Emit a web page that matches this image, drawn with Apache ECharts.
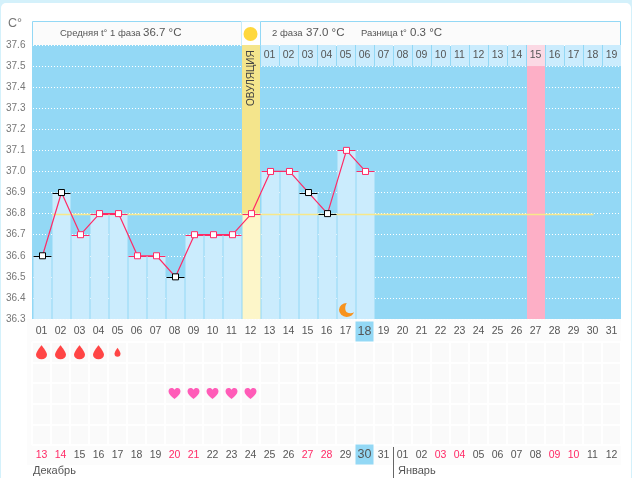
<!DOCTYPE html>
<html><head><meta charset="utf-8">
<script src="https://cdn.jsdelivr.net/npm/echarts@6/dist/echarts.min.js"></script>
<style>
html,body{margin:0;padding:0;background:#d4f1fb;overflow:hidden;width:632px;height:478px}
#card{position:absolute;left:1px;top:3px;width:630px;height:480px;background:#fff;border-radius:5px}
#c{position:absolute;left:0;top:0;width:632px;height:478px}
</style></head><body><div id="card"></div><div id="c"></div>
<script>
const days=['01','02','03','04','05','06','07','08','09','10','11','12','13','14','15','16','17','18','19','20','21','22','23','24','25','26','27','28','29','30','31'];
const temps=[36.6,36.9,36.7,36.8,36.8,36.6,36.6,36.5,36.7,36.7,36.7,36.8,37.0,37.0,36.9,36.8,37.1,37.0];
const excluded=[1,1,0,0,0,0,0,1,0,0,0,0,0,0,1,1,0,0];
const yTicks={min:36.3,max:37.6,step:0.1};
const coverTemp=36.8;
const ovulationDay=12;
const periodDay=27;
const todayDay=18;
const moonDay=17;
const cycle2Days=['01','02','03','04','05','06','07','08','09','10','11','12','13','14','15','16','17','18','19'];
const calendarDates=['13','14','15','16','17','18','19','20','21','22','23','24','25','26','27','28','29','30','31','01','02','03','04','05','06','07','08','09','10','11','12'];
const weekendDates=[0,1,7,8,14,15,21,22,27,28];
const calendarToday=17;
const flowLevels=[3,3,3,3,1];
const heartDays=[7,8,9,10,11];
const rows=['a','b','c','d','e'];
const texts={avg1:'Средняя t° 1 фаза',avg1v:'36.7 °C',ph2:'2 фаза',ph2v:'37.0 °C',diff:'Разница t°',diffv:'0.3 °C',ov:'ОВУЛЯЦИЯ',dec:'Декабрь',jan:'Январь',unit:'C°'};

const FONT='"Liberation Sans",sans-serif', TXT='#555', BLUE='#93d8f5', PINK='#ff2a66';
const DROP='path://M5 0C5 0 0 7 0 10A5 5 0 0 0 10 10C10 7 5 0 5 0Z';
const HEART='path://M5 9C2 6.6 0 5 0 2.7 0 1 1.2 0 2.6 0 3.6 0 4.5 .5 5 1.4 5.5 .5 6.4 0 7.4 0 8.8 0 10 1 10 2.7 10 5 8 6.6 5 9Z';
const MOON='path://M8 0A7.5 7.5 0 1 0 15 10C13 11.5 10 11.5 8 10 6 8 6 3 8 0Z';

const bandItem=(api,day,hi,lo,color)=>{
  const p0=api.coord([day-1,hi]),p1=api.coord([day-1,lo]);
  const w=api.size([1,0])[0];
  return {type:'rect',shape:{x:p0[0]-w/2,y:p0[1],width:w-1,height:p1[1]-p0[1]},style:{fill:color}};
};
const boxRich={
  n:{width:18,height:20,lineHeight:20,align:'center',fontSize:10.5,color:TXT},
  r:{width:18,height:20,lineHeight:20,align:'center',fontSize:10.5,color:PINK},
  h:{backgroundColor:BLUE,width:18,height:20,lineHeight:19,align:'center',fontSize:12.5,color:TXT}
};
const option={
  animation:false,
  textStyle:{fontFamily:FONT},
  grid:[
    {left:33,top:45,width:589,height:274,show:false},
    {left:32,top:342,width:589,height:103,show:true,backgroundColor:'#fafafa',borderWidth:0}
  ],
  xAxis:[
    {gridIndex:0,type:'category',data:days,show:false},
    {gridIndex:1,type:'category',data:days,position:'top',axisLine:{show:false},axisTick:{show:false},
      splitLine:{show:true,interval:0,lineStyle:{color:'#ffffff',width:2}},
      axisLabel:{interval:0,margin:1,fontFamily:FONT,
        formatter:(v,i)=>i===todayDay-1?`{h|${v}}`:`{n|${v}}`,rich:boxRich}},
    {gridIndex:1,type:'category',data:calendarDates,position:'bottom',axisLine:{show:false},axisTick:{show:false},
      axisLabel:{interval:0,margin:0,fontFamily:FONT,
        formatter:(v,i)=>i===calendarToday?`{h|${v}}`:weekendDates.includes(i)?`{r|${v}}`:`{n|${v}}`,rich:boxRich}}
  ],
  yAxis:[
    {gridIndex:0,type:'value',min:yTicks.min,max:yTicks.max,interval:yTicks.step,
      axisLine:{show:false},axisTick:{show:false},
      splitLine:{show:true,lineStyle:{color:'#ffffff',type:[1,2],width:1}},
      axisLabel:{color:'#777',fontSize:10,fontFamily:FONT,align:'left',margin:27,padding:[3,0,0,0],
        formatter:v=>v.toFixed(1)}},
    {gridIndex:1,type:'category',data:rows,inverse:true,axisLine:{show:false},axisTick:{show:false},
      axisLabel:{show:false},splitLine:{show:true,interval:0,lineStyle:{color:'#ffffff',width:2}}}
  ],
  series:[
    {type:'custom',z:1,xAxisIndex:0,yAxisIndex:0,silent:true,data:[[0]],
      renderItem:(p,api)=>({type:'group',children:[
        bandItem(api,ovulationDay,yTicks.max,coverTemp,'#f4e58c'),
        bandItem(api,periodDay,yTicks.max-yTicks.step,yTicks.min,'#fdafc6')
      ]})},
    {type:'bar',z:2,xAxisIndex:0,yAxisIndex:0,barWidth:18,barGap:0,silent:true,
      data:temps.map((v,i)=>({value:v,itemStyle:{color:i===ovulationDay-1?'#fdf6c9':'#cbecfd'}}))},
    {type:'custom',z:3,xAxisIndex:0,yAxisIndex:0,silent:true,data:cycle2Days.map((d,i)=>[ovulationDay+i]),
      encode:{x:0},
      renderItem:(p,api)=>{
        const i=api.value(0);
        const c0=api.coord([i,yTicks.max]),c1=api.coord([i,yTicks.max-yTicks.step]);
        const w=api.size([1,0])[0];
        return {type:'group',children:[
          {type:'rect',shape:{x:c0[0]-w/2,y:c0[1],width:w-1,height:c1[1]-c0[1]},style:{fill:i===periodDay-1?'#fbd9e4':'#cbecfd'}},
          {type:'text',x:c0[0]-1,y:(c0[1]+c1[1])/2,style:{text:cycle2Days[p.dataIndex],fill:TXT,font:'10.5px '+FONT,textAlign:'center',textVerticalAlign:'middle'}}
        ]};
      }},
    {type:'custom',z:4,xAxisIndex:0,yAxisIndex:0,silent:true,data:[[0]],
      renderItem:(p,api)=>{
        const a=api.coord([1,coverTemp]),b=api.coord([29,coverTemp]);
        const y=Math.round(a[1])+.5;
        return {type:'line',shape:{x1:a[0]-9,y1:y,x2:b[0],y2:y},style:{stroke:'#f8e88a',lineWidth:1.5}};
      }},
    {type:'custom',z:5,xAxisIndex:0,yAxisIndex:0,silent:true,data:temps.map((v,i)=>[i,v]),
      encode:{x:0,y:1},
      renderItem:(p,api)=>{
        const c=api.coord([api.value(0),api.value(1)]);
        const y=Math.round(c[1])+.5;
        return {type:'line',shape:{x1:c[0]-9,y1:y,x2:c[0]+9,y2:y},
          style:{stroke:excluded[p.dataIndex]?'#000':PINK,lineWidth:1}};
      }},
    {type:'line',z:6,xAxisIndex:0,yAxisIndex:0,silent:true,showSymbol:true,showAllSymbol:true,
      lineStyle:{color:PINK,width:1.2},
      data:temps.map((v,i)=>({value:v,symbol:'rect',symbolSize:6,
        itemStyle:{color:'#fff',borderColor:excluded[i]?'#000':PINK,borderWidth:1}}))},
    {type:'custom',z:7,xAxisIndex:0,yAxisIndex:0,silent:true,data:[[0]],
      renderItem:(p,api)=>{
        const c=api.coord([ovulationDay-1,37.443]);
        return {type:'text',x:c[0]-.5,y:c[1],rotation:Math.PI/2,
          style:{text:texts.ov,fill:'#444',font:'10px '+FONT,textAlign:'center',textVerticalAlign:'middle'}};
      }},
    {type:'scatter',z:7,xAxisIndex:0,yAxisIndex:0,silent:true,symbol:MOON,symbolSize:[15,14],
      itemStyle:{color:'#f7931e',opacity:1},data:[[moonDay-1,36.343]]},
    {type:'scatter',xAxisIndex:1,yAxisIndex:1,silent:true,symbol:DROP,z:3,
      itemStyle:{color:'#ff4545',opacity:1},
      data:flowLevels.map((l,i)=>({value:[i,0],symbolSize:l>=3?[11,14]:[6,9]}))},
    {type:'scatter',xAxisIndex:1,yAxisIndex:1,silent:true,symbol:HEART,z:3,symbolSize:[12,11],
      itemStyle:{color:'#ff5cb8',opacity:1},
      data:heartDays.map(d=>[d,2])}
  ],
  graphic:[
    {type:'rect',z:-10,shape:{x:32,y:45,width:589,height:274},style:{fill:BLUE}},
    {type:'rect',z:-10,shape:{x:27,y:319,width:594,height:146},style:{fill:'#fcfcfc'}},
    {type:'rect',shape:{x:32.5,y:21.5,width:209,height:24},style:{fill:'#fbfbfb',stroke:BLUE,lineWidth:1}},
    {type:'rect',shape:{x:241.5,y:21.5,width:19,height:24},style:{fill:'#fff',stroke:'#c8ecf9',lineWidth:1}},
    {type:'circle',shape:{cx:250.5,cy:34,r:7},style:{fill:'#ffd83d'}},
    {type:'rect',shape:{x:260.5,y:21.5,width:360,height:24},style:{fill:'#fbfbfb',stroke:BLUE,lineWidth:1}},
    {type:'text',x:60,y:33,style:{text:texts.avg1,fill:TXT,font:'9.5px '+FONT,textVerticalAlign:'middle'}},
    {type:'text',x:143,y:33,style:{text:texts.avg1v,fill:TXT,font:'11.5px '+FONT,textVerticalAlign:'middle'}},
    {type:'text',x:272,y:33,style:{text:texts.ph2,fill:TXT,font:'9.5px '+FONT,textVerticalAlign:'middle'}},
    {type:'text',x:306,y:33,style:{text:texts.ph2v,fill:TXT,font:'11.5px '+FONT,textVerticalAlign:'middle'}},
    {type:'text',x:361,y:33,style:{text:texts.diff,fill:TXT,font:'9.5px '+FONT,textVerticalAlign:'middle'}},
    {type:'text',x:410,y:33,style:{text:texts.diffv,fill:TXT,font:'11.5px '+FONT,textVerticalAlign:'middle'}},
    {type:'text',x:8,y:24,style:{text:texts.unit,fill:'#777',font:'12.5px '+FONT,textVerticalAlign:'middle'}},
    {type:'text',x:33,y:471,style:{text:texts.dec,fill:TXT,font:'11px '+FONT,textVerticalAlign:'middle'}},
    {type:'text',x:398,y:471,style:{text:texts.jan,fill:TXT,font:'11px '+FONT,textVerticalAlign:'middle'}},
    {type:'line',shape:{x1:393.5,y1:447,x2:393.5,y2:478},style:{stroke:'#666',lineWidth:1}}
  ]
};
const chart=echarts.init(document.getElementById('c'),null,{renderer:'canvas'});
chart.setOption(option);
</script></body></html>
